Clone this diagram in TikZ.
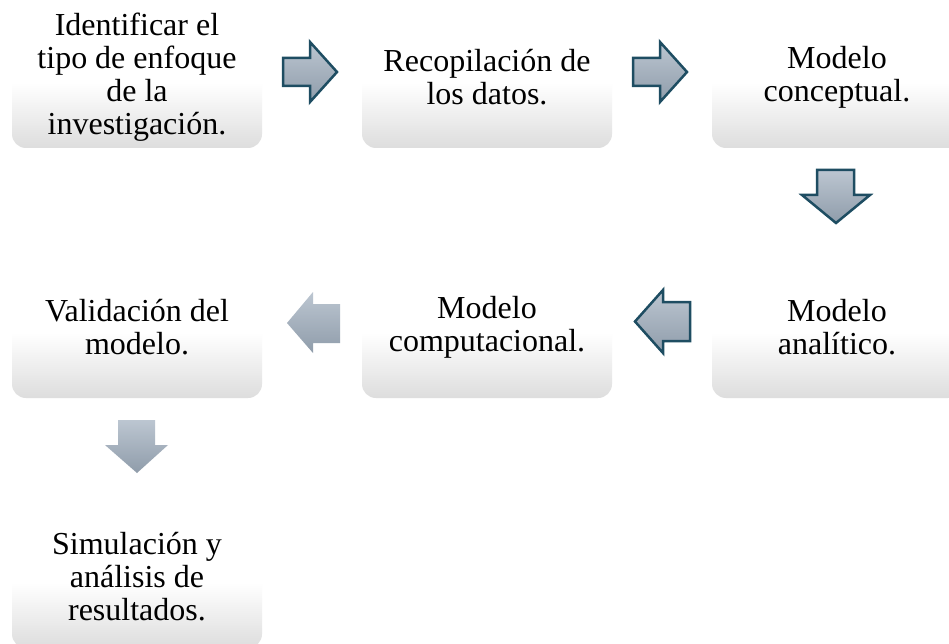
\documentclass[tikz,border=0pt]{standalone}
\usepackage{fontspec}
\setmainfont{Liberation Serif}
\usetikzlibrary{calc}
\definecolor{boxbot}{RGB}{221,221,221}
\definecolor{arrtop}{RGB}{188,198,209}
\definecolor{arrbot}{RGB}{143,156,170}
\definecolor{arrline}{RGB}{30,77,98}
\pgfdeclareverticalshading{boxshade}{100bp}{color(0bp)=(boxbot); color(25bp)=(boxbot); color(47bp)=(white); color(100bp)=(white)}
\begin{document}
\begin{tikzpicture}[x=1pt,y=-1pt,
  stepbox/.style={shade, shading=boxshade, rounded corners=14pt, minimum width=250pt, minimum height=148pt, inner sep=0pt, anchor=center},
  steptext/.style={align=center, font=\fontsize{32}{33}\selectfont, inner sep=0pt, yshift=-3pt},
  blockarr/.style={top color=arrtop, bottom color=arrbot, draw=arrline, line width=2.5pt, line join=miter},
  softarr/.style={top color=arrtop, bottom color=arrbot}
]
\clip (0,0) rectangle (949,644);
\fill[white] (0,0) rectangle (949,644);

\node[stepbox, label={[steptext]center:{Identificar el\\tipo de enfoque\\de la\\investigación.}}] (b1) at (137,74) {};
\node[stepbox, label={[steptext]center:{Recopilación de\\los datos.}}] (b2) at (487,74) {};
\node[stepbox, label={[steptext]center:{Modelo\\conceptual.}}] (b3) at (837,74) {};
\node[stepbox, label={[steptext]center:{Modelo\\analítico.}}] (b4) at (837,324) {};
\node[stepbox, label={[steptext]center:{Modelo\\computacional.}}] (b5) at (487,324) {};
\node[stepbox, label={[steptext]center:{Validación del\\modelo.}}] (b6) at (137,324) {};
\node[stepbox, label={[steptext]center:{Simulación y\\análisis de\\resultados.}}] (b7) at (137,574) {};

% right arrows
\path[blockarr, shift={($(b1.east)!0.5!(b2.west)$)}]
  (-29,-16) -- (-2,-16) -- (-2,-32) -- (25,-2) -- (-2,28) -- (-2,12) -- (-29,12) -- cycle;
\path[blockarr, shift={($(b2.east)!0.5!(b3.west)$)}]
  (-29,-16) -- (-2,-16) -- (-2,-32) -- (25,-2) -- (-2,28) -- (-2,12) -- (-29,12) -- cycle;
% down arrow
\path[blockarr, shift={($(b3.south)!0.5!(b4.north)$)}]
  (-20,-29) -- (17,-29) -- (17,-4) -- (33,-4) -- (-1,24) -- (-35,-4) -- (-20,-4) -- cycle;
% left arrow (outlined)
\path[blockarr, shift={($(b5.east)!0.5!(b4.west)$)}]
  (28,-22) -- (1,-22) -- (1,-34) -- (-27,-2.5) -- (1,29) -- (1,17) -- (28,17) -- cycle;
% left arrow (soft)
\path[softarr, shift={($(b6.east)!0.5!(b5.west)$)}]
  (28,-20) -- (1,-20) -- (1,-32) -- (-25,-1) -- (1,29) -- (1,19) -- (28,19) -- cycle;
% down arrow (soft)
\path[softarr, shift={($(b6.south)!0.5!(b7.north)$)}]
  (-19,-29) -- (18,-29) -- (18,-4) -- (31,-4) -- (0,24) -- (-32,-4) -- (-19,-4) -- cycle;
\end{tikzpicture}
\end{document}
